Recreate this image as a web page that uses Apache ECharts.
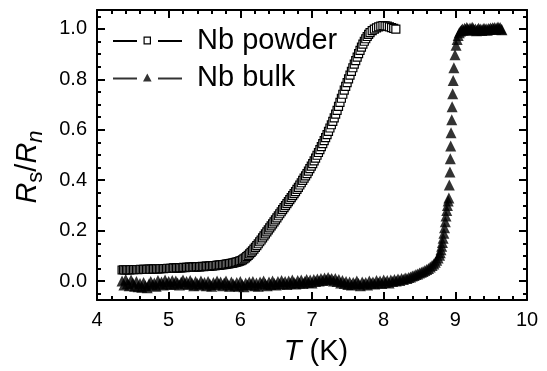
<!DOCTYPE html>
<html><head><meta charset="utf-8">
<script src="https://cdn.jsdelivr.net/npm/echarts@6/dist/echarts.min.js"></script>
<style>html,body{margin:0;padding:0;background:#fff}#c{width:547px;height:371px}</style>
</head><body><div id="c"></div>
<script>
const seriesNames = ['Nb powder', 'Nb bulk'];
const xTicks = [4, 5, 6, 7, 8, 9, 10];
const yTickLabels = [0, 0.2, 0.4, 0.6, 0.8, 1.0];
const yMinorTicks = [-0.05, 0.05, 0.1, 0.15, 0.25, 0.3, 0.35, 0.45, 0.5, 0.55, 0.65, 0.7, 0.75, 0.85, 0.9, 0.95, 1.05];

const powderT = [4.35,4.37,4.39,4.41,4.43,4.45,4.47,4.49,4.51,4.53,4.55,4.57,4.59,4.61,4.63,4.65,4.67,4.69,4.71,4.73,4.75,4.77,4.79,4.81,4.83,4.85,4.87,4.89,4.91,4.93,4.95,4.97,4.99,5.01,5.03,5.05,5.07,5.09,5.11,5.13,5.15,5.17,5.19,5.21,5.23,5.25,5.27,5.29,5.31,5.33,5.35,5.37,5.39,5.41,5.43,5.45,5.47,5.49,5.51,5.53,5.55,5.57,5.59,5.61,5.63,5.65,5.67,5.69,5.71,5.73,5.75,5.77,5.79,5.81,5.83,5.85,5.87,5.89,5.91,5.93,5.95,5.97,5.99,
6.01,6.03,6.05,6.07,6.09,6.11,6.13,6.15,6.17,6.19,6.21,6.23,6.25,6.27,6.29,6.31,6.33,6.35,6.37,6.39,6.41,6.43,6.45,6.47,6.49,6.51,6.53,6.55,6.57,6.59,6.61,6.63,6.65,6.67,6.69,6.71,6.73,6.75,6.77,6.79,6.81,6.83,6.85,6.87,6.89,6.91,6.93,6.95,6.97,6.99,7.01,7.03,7.05,7.07,7.09,7.11,7.13,7.15,7.17,7.19,7.21,7.23,7.25,7.27,7.29,7.31,7.33,7.35,7.37,7.39,7.41,7.43,7.45,7.47,7.49,7.51,7.53,7.55,7.57,7.59,7.61,7.63,7.65,7.67,7.69,7.71,7.73,7.75,7.77,7.79,7.81,7.84,7.87,7.90,7.93,7.96,7.99,8.02,8.05,8.08,8.11,8.14,8.17];
const powderR = [0.044,0.045,0.044,0.045,0.045,0.044,0.045,0.046,0.045,0.046,0.046,0.045,0.046,0.047,0.046,0.047,0.047,0.046,0.047,0.048,0.047,0.048,0.048,0.048,0.049,0.048,0.049,0.049,0.050,0.049,0.050,0.050,0.051,0.050,0.051,0.051,0.052,0.051,0.052,0.052,0.053,0.052,0.053,0.054,0.053,0.054,0.054,0.055,0.054,0.055,0.056,0.055,0.056,0.057,0.056,0.057,0.058,0.057,0.058,0.059,0.058,0.059,0.060,0.060,0.061,0.061,0.062,0.063,0.063,0.064,0.065,0.065,0.066,0.067,0.068,0.069,0.070,0.071,0.072,0.074,0.075,0.077,0.079,
0.081,0.084,0.088,0.092,0.097,0.102,0.108,0.114,0.120,0.127,0.134,0.141,0.148,0.156,0.163,0.171,0.179,0.187,0.195,0.203,0.211,0.219,0.227,0.235,0.243,0.251,0.259,0.267,0.275,0.283,0.291,0.299,0.307,0.315,0.323,0.331,0.339,0.347,0.355,0.364,0.372,0.381,0.390,0.399,0.408,0.417,0.426,0.436,0.446,0.456,0.466,0.477,0.488,0.499,0.510,0.521,0.533,0.545,0.557,0.569,0.581,0.594,0.607,0.620,0.633,0.647,0.662,0.677,0.693,0.709,0.725,0.741,0.757,0.772,0.787,0.802,0.817,0.832,0.846,0.860,0.874,0.888,0.902,0.915,0.928,0.940,0.951,0.961,0.970,0.978,0.985,0.993,0.999,1.004,1.008,1.011,1.013,1.012,1.011,1.008,1.005,1.002,0.999];

const bulkT = [4.35,4.375,4.40,4.425,4.45,4.475,4.50,4.525,4.55,4.575,4.60,4.625,4.65,4.675,4.70,4.725,4.75,4.775,4.80,4.825,4.85,4.875,4.90,4.925,4.95,4.975,5.00,5.025,5.05,5.075,5.10,5.125,5.15,5.175,5.20,5.225,5.25,5.275,5.30,5.325,5.35,5.375,5.40,5.425,5.45,5.475,5.50,5.525,5.55,5.575,5.60,5.625,5.65,5.675,5.70,5.725,5.75,5.775,5.80,5.825,5.85,5.875,5.90,5.925,5.95,5.975,6.00,6.025,6.05,6.075,6.10,6.125,6.15,6.175,6.20,6.225,6.25,6.275,6.30,6.325,6.35,6.375,6.40,6.425,6.45,6.475,6.50,6.525,6.55,6.575,6.60,6.625,6.65,6.675,6.70,6.725,6.75,6.775,6.80,6.825,6.85,6.875,6.90,6.925,6.95,6.975,7.00,7.025,7.05,7.075,7.10,7.125,7.15,7.175,7.20,7.225,7.25,7.275,7.30,7.325,7.35,7.375,7.40,7.425,7.45,7.475,7.50,7.525,7.55,7.575,7.60,7.625,7.65,7.675,7.70,7.725,7.75,7.775,7.80,7.825,7.85,7.875,7.90,7.925,7.95,7.975,8.00,8.025,8.05,8.075,8.10,8.125,8.15,8.175,8.20,8.225,8.25,8.275,8.30,8.325,8.35,8.375,8.40,
8.425,8.45,8.475,8.50,8.525,8.55,8.575,8.60,8.625,8.65,8.675,8.70,8.72,8.74,8.76,8.78,8.79,8.80,8.81,8.82,8.83,8.84,8.85,8.86,8.87,8.88,8.89,8.90,
8.91,8.916,8.925,8.93,8.935,8.94,8.95,8.955,8.963,8.97,8.98,8.995,9.01,9.025,9.04,9.055,9.07,9.085,9.10,9.115,9.13,9.145,9.16,9.175,9.19,9.205,9.22,9.235,9.25,9.265,9.28,9.295,9.31,9.325,9.34,9.355,9.37,9.385,9.40,9.415,9.43,9.445,9.46,9.475,9.49,9.505,9.52,9.535,9.55,9.565,9.58,9.595,9.61,9.625,9.64,9.65];
const bulkR = [0.000,-0.016,0.006,-0.010,-0.018,0.004,-0.008,-0.020,-0.002,-0.022,-0.010,-0.024,-0.006,-0.018,-0.026,-0.012,-0.002,-0.016,-0.008,-0.020,0.002,-0.012,-0.004,-0.016,0.004,-0.010,-0.002,-0.014,0.002,-0.012,0.000,-0.008,-0.016,-0.004,0.004,-0.010,-0.002,-0.014,0.002,-0.008,-0.018,-0.002,-0.010,-0.016,0.000,-0.012,-0.006,-0.018,-0.002,-0.012,-0.020,-0.006,-0.014,0.000,-0.012,-0.004,-0.018,-0.008,0.000,-0.014,-0.020,-0.004,-0.012,-0.018,-0.006,-0.020,-0.002,-0.014,-0.022,-0.008,-0.016,-0.004,-0.014,-0.002,-0.018,-0.008,-0.020,-0.004,-0.012,0.000,-0.012,-0.018,-0.004,-0.014,0.000,-0.010,-0.016,-0.002,-0.012,0.002,-0.010,-0.002,-0.014,0.000,-0.010,0.004,-0.006,-0.012,0.002,-0.008,0.004,-0.010,-0.002,0.006,-0.006,0.004,-0.008,0.006,-0.002,0.008,0.000,0.010,0.002,0.012,0.004,0.014,0.006,0.010,0.000,0.010,-0.002,0.006,-0.008,0.002,-0.010,-0.002,-0.014,-0.004,-0.016,-0.006,-0.012,0.000,-0.010,-0.018,-0.004,-0.012,-0.006,-0.016,0.000,-0.010,-0.004,-0.012,0.002,-0.008,0.000,-0.010,0.004,-0.006,0.002,-0.008,0.004,-0.002,0.006,0.000,0.008,0.002,0.010,0.006,0.012,0.010,0.014,0.016,0.020,
0.022,0.026,0.028,0.032,0.035,0.038,0.042,0.046,0.050,0.056,0.062,0.068,0.075,0.083,0.092,0.102,0.112,0.124,0.138,0.153,0.170,0.190,0.212,0.235,0.258,0.280,0.300,0.318,
0.329,0.381,0.433,0.485,0.536,0.588,0.640,0.691,0.743,0.795,0.846,0.898,0.935,0.958,0.974,0.985,0.991,0.996,1.000,0.994,1.003,0.998,1.006,1.001,0.996,1.004,0.999,1.007,1.002,0.995,1.000,0.993,0.998,1.003,0.996,1.000,0.994,0.999,1.003,0.997,1.001,0.995,1.002,0.998,1.004,0.999,1.005,1.001,1.006,0.998,1.004,1.008,1.002,1.006,0.999,0.997];

const FONT = '"Liberation Sans", Arial, sans-serif';
const zip = (a, b) => a.map((v, i) => [v, b[i]]);

const iconPowder = 'path://M0,3.4h24v2h-24z M45,3.4h24v2h-24z M30.5,0h7.5v1.2h-7.5z M30.5,6.8h7.5v1.2h-7.5z M30.5,0h1.2v8h-1.2z M36.8,0h1.2v8h-1.2z';
const iconBulk = 'path://M0,4h24v2h-24z M45,4h24v2h-24z M34.3,0L38.6,8L30,8z';

const tickStyle = {color: '#000', width: 2};
function xAx(pos) {
  return {
    type: 'value', position: pos, min: 4, max: 10, interval: 1,
    axisLine: {show: true, onZero: false, lineStyle: {color: '#000', width: 2}},
    axisTick: {show: true, inside: true, length: 8, lineStyle: tickStyle},
    minorTick: {show: true, splitNumber: 5, length: 4, lineStyle: tickStyle},
    splitLine: {show: false},
    axisLabel: {show: pos === 'bottom', fontSize: 20, color: '#000', fontFamily: FONT, margin: 10},
    name: pos === 'bottom' ? '{i|T} (K)' : '',
    nameLocation: 'middle', nameGap: 37,
    nameTextStyle: {fontSize: 29, color: '#000', fontFamily: FONT, padding: [0, 0, 0, 8],
      rich: {i: {fontSize: 29, fontStyle: 'italic', fontFamily: FONT, color: '#000'}}}
  };
}
function yAx(pos, major) {
  return {
    type: 'value', position: pos, min: -0.075, max: 1.075,
    axisLine: {show: major, onZero: false, lineStyle: {color: '#000', width: 2}},
    axisTick: {show: true, inside: true, length: major ? 8 : 4, lineStyle: tickStyle,
      customValues: major ? yTickLabels : yMinorTicks},
    splitLine: {show: false},
    axisLabel: {show: major && pos === 'left', fontSize: 20, color: '#000', fontFamily: FONT, margin: 10,
      customValues: yTickLabels, formatter: v => v.toFixed(1)},
    name: (major && pos === 'left') ? '{i|R}{s|s}{n|/}{i|R}{si|n}' : '',
    nameLocation: 'middle', nameGap: 50, nameRotate: 90,
    nameTextStyle: {fontSize: 29, color: '#000', fontFamily: FONT, padding: [0, 24, 0, 0],
      rich: {
        i: {fontSize: 29, fontStyle: 'italic', fontFamily: FONT, color: '#000', lineHeight: 34, verticalAlign: 'top'},
        n: {fontSize: 29, fontFamily: FONT, color: '#000', lineHeight: 34, verticalAlign: 'top'},
        s: {fontSize: 22, fontFamily: FONT, color: '#000', lineHeight: 22, verticalAlign: 'bottom'},
        si: {fontSize: 22, fontStyle: 'italic', fontFamily: FONT, color: '#000', lineHeight: 22, verticalAlign: 'bottom'}
      }}
  };
}

const chart = echarts.init(document.getElementById('c'), null, {renderer: 'canvas'});
chart.setOption({
  animation: false,
  backgroundColor: '#fff',
  grid: {left: 97, right: 20, top: 10, bottom: 64, containLabel: false},
  xAxis: [xAx('bottom'), xAx('top')],
  yAxis: [yAx('left', true), yAx('left', false), yAx('right', true), yAx('right', false)],
  legend: {
    orient: 'vertical', left: 113, top: 26, padding: 0, itemGap: 8,
    itemWidth: 69, itemHeight: 8, selectedMode: false,
    textStyle: {fontSize: 29, color: '#000', fontFamily: FONT, padding: [0, 0, 0, 10]},
    itemStyle: {color: '#000', borderWidth: 0},
    data: [{name: seriesNames[0], icon: iconPowder}, {name: seriesNames[1], icon: iconBulk}]
  },
  series: [
    {name: seriesNames[1], type: 'scatter', xAxisIndex: 0, yAxisIndex: 0,
      symbol: 'triangle', symbolSize: 11, itemStyle: {color: '#000'},
      data: zip(bulkT, bulkR)},
    {name: seriesNames[0], type: 'scatter', xAxisIndex: 0, yAxisIndex: 0,
      symbol: 'rect', symbolSize: 8,
      itemStyle: {color: '#fff', borderColor: '#000', borderWidth: 1.2, opacity: 1},
      data: zip(powderT, powderR)}
  ]
});
</script></body></html>
